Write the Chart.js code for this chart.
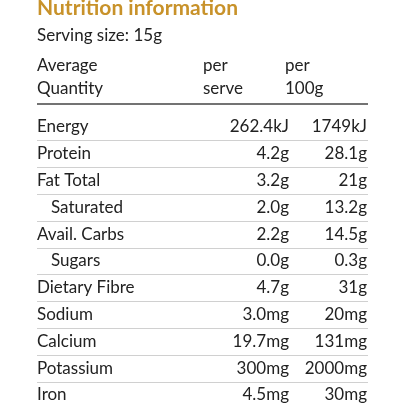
<!DOCTYPE html>
<html><head><meta charset="utf-8">
<script src="https://cdn.jsdelivr.net/npm/chart.js@4"></script>
<style>html,body{margin:0;padding:0;background:#fff}#wrap{width:406px;height:406px}</style>
</head><body><div id="wrap"><canvas id="c"></canvas></div>
<script>
const title = "Nutrition information";
const serving = "Serving size: 15g";
const headers = [["Average","Quantity"],["per","serve"],["per","100g"]];
const nutrients = ["Energy","Protein","Fat Total","Saturated","Avail. Carbs","Sugars","Dietary Fibre","Sodium","Calcium","Potassium","Iron"];
const indented = [false,false,false,true,false,true,false,false,false,false,false];
const perServe = ["262.4kJ","4.2g","3.2g","2.0g","2.2g","0.0g","4.7g","3.0mg","19.7mg","300mg","4.5mg"];
const per100g = ["1749kJ","28.1g","21g","13.2g","14.5g","0.3g","31g","20mg","131mg","2000mg","30mg"];

const FONT = "Lato, 'Open Sans', sans-serif";
const tablePlugin = {
  id:'table',
  afterDraw(chart){
    const {ctx, scales:{x,y}} = chart;
    ctx.save();
    ctx.textBaseline='middle';
    ctx.fillStyle='#c8922a';
    ctx.font='bold 21px '+FONT;
    ctx.textAlign='left';
    ctx.fillText(title, x.getPixelForValue(37), y.getPixelForValue(-4.45));
    ctx.fillStyle='#222';
    ctx.font='17px '+FONT;
    ctx.fillText(serving, x.getPixelForValue(37), y.getPixelForValue(-3.4));
    const hx=[37,203,285];
    headers.forEach((h,i)=>{
      ctx.fillText(h[0], x.getPixelForValue(hx[i]), y.getPixelForValue(-2.31));
      ctx.fillText(h[1], x.getPixelForValue(hx[i]), y.getPixelForValue(-1.42));
    });
    ctx.strokeStyle='#444'; ctx.lineWidth=1.5;
    let py=y.getPixelForValue(-0.86);
    ctx.beginPath(); ctx.moveTo(x.getPixelForValue(37),py); ctx.lineTo(x.getPixelForValue(368),py); ctx.stroke();
    ctx.strokeStyle='#d0d0d0'; ctx.lineWidth=1;
    nutrients.forEach((n,i)=>{
      const yy=y.getPixelForValue(i);
      ctx.textAlign='left';
      ctx.fillText(n, x.getPixelForValue(indented[i]?51:37), yy);
      ctx.textAlign='right';
      ctx.fillText(perServe[i], x.getPixelForValue(289), yy);
      ctx.fillText(per100g[i], x.getPixelForValue(367), yy);
      if(i<nutrients.length-1){
        const ly=Math.round(y.getPixelForValue(i+0.5))+0.5;
        ctx.beginPath(); ctx.moveTo(x.getPixelForValue(37),ly); ctx.lineTo(x.getPixelForValue(368),ly); ctx.stroke();
      }
    });
    ctx.restore();
  }
};
const min=-127/26.8;
new Chart(document.getElementById('c'),{
  type:'scatter',
  data:{datasets:[{data:[]}]},
  options:{responsive:true,maintainAspectRatio:false,animation:false,
    layout:{padding:0},
    plugins:{legend:{display:false},tooltip:{enabled:false}},
    scales:{x:{type:'linear',min:0,max:406,display:false},
            y:{type:'linear',min:min,max:min+406/26.8,reverse:true,display:false}}},
  plugins:[tablePlugin]
});
</script></body></html>
